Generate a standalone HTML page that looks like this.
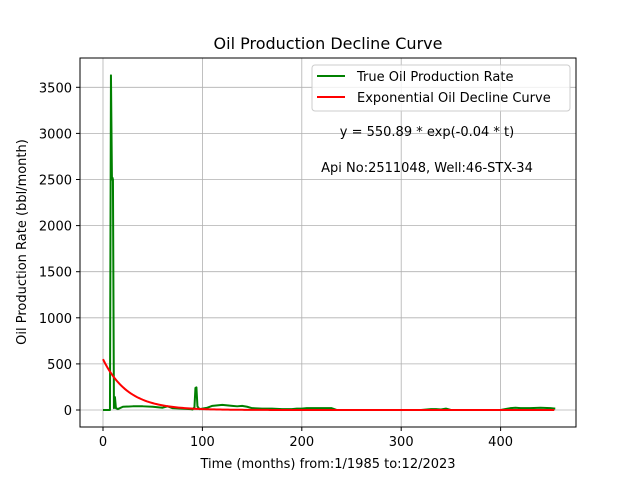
<!DOCTYPE html>
<html><head><meta charset="utf-8"><style>
body{margin:0;background:#fff}
text{font-family:"DejaVu Sans","Liberation Sans",sans-serif;fill:#000}
</style></head><body>
<svg id="chart" width="640" height="480" xmlns="http://www.w3.org/2000/svg">
<rect width="640" height="480" fill="#fff"/>
<text x="328" y="49" font-size="16" text-anchor="middle">Oil Production Decline Curve</text>
<g id="grid"></g>
<g id="series"></g>
<rect x="80" y="58" width="496" height="369" fill="none" stroke="#000" stroke-width="1"/>
<g id="ticks"></g>
<text x="328" y="468" font-size="13" text-anchor="middle">Time (months) from:1/1985 to:12/2023</text>
<text transform="translate(26,242) rotate(-90)" font-size="13" text-anchor="middle">Oil Production Rate (bbl/month)</text>
<g>
<rect x="312" y="65" width="258" height="46" rx="3" fill="#fff" fill-opacity="0.8" stroke="#ccc"/>
<line x1="317" y1="76" x2="345" y2="76" stroke="#008000" stroke-width="2"/>
<text x="357" y="81" font-size="13">True Oil Production Rate</text>
<line x1="317" y1="97" x2="345" y2="97" stroke="#ff0000" stroke-width="2"/>
<text x="357" y="102" font-size="13">Exponential Oil Decline Curve</text>
</g>
<text x="427" y="136" font-size="13" text-anchor="middle">y = 550.89 * exp(-0.04 * t)</text>
<text x="427" y="172" font-size="13" text-anchor="middle">Api No:2511048, Well:46-STX-34</text>
</svg>
<script>
const months=[0,7,8,9,9.5,10,11,12,13,15,20,30,40,50,55,60,65,70,80,88,90,92,93,94,95,97,100,105,110,115,120,125,130,135,140,145,150,160,170,180,190,195,200,205,210,215,220,230,235,240,260,280,300,320,330,335,340,345,350,360,380,400,410,415,420,430,440,450,455];
const rates=[0,0,3630,2500,2520,2500,20,140,20,10,35,40,40,35,30,25,40,20,15,10,5,30,240,245,40,10,15,25,45,50,55,50,45,40,45,35,20,15,15,10,10,15,15,20,20,20,20,20,0,0,0,0,0,0,10,10,5,15,0,0,0,0,20,25,20,20,25,20,15];
const expA=550.89, expK=0.04, expEnd=455;
const xTicks=[0,100,200,300,400];
const yTicks=[0,500,1000,1500,2000,2500,3000,3500];
const X=v=>103+v*0.994, Y=v=>410-v*0.0922;
const NS="http://www.w3.org/2000/svg";
const mk=(t,a,p)=>{const e=document.createElementNS(NS,t);for(const k in a)e.setAttribute(k,a[k]);p.appendChild(e);return e;};
const grid=document.getElementById('grid'),ticks=document.getElementById('ticks'),ser=document.getElementById('series');
xTicks.forEach(v=>{
 const g=mk('line',{x1:X(v),x2:X(v),y1:58,y2:427,stroke:'#b0b0b0','stroke-width':0.8},grid);
 
 
 mk('line',{x1:X(v),x2:X(v),y1:427,y2:431,stroke:'#000'},ticks);
 const t=mk('text',{x:X(v),y:446,'font-size':13,'text-anchor':'middle'},ticks);t.textContent=v;
 
 
});
yTicks.forEach(v=>{
 const g=mk('line',{x1:80,x2:576,y1:Y(v),y2:Y(v),stroke:'#b0b0b0','stroke-width':0.8},grid);
 
 
 mk('line',{x1:76,x2:80,y1:Y(v),y2:Y(v),stroke:'#000'},ticks);
 const t=mk('text',{x:72,y:Y(v)+5,'font-size':13,'text-anchor':'end'},ticks);t.textContent=v;
 
 
});
const p1=mk('polyline',{points:months.map((m,i)=>X(m)+','+Y(rates[i])).join(' '),fill:'none',stroke:'#008000','stroke-width':2,'stroke-linejoin':'round'},ser);


const pts=[];for(let t=0;t<=expEnd;t+=2)pts.push(X(t)+','+Y(expA*Math.exp(-expK*t)));
const p2=mk('polyline',{points:pts.join(' '),fill:'none',stroke:'#ff0000','stroke-width':2},ser);


</script>
</body></html>
